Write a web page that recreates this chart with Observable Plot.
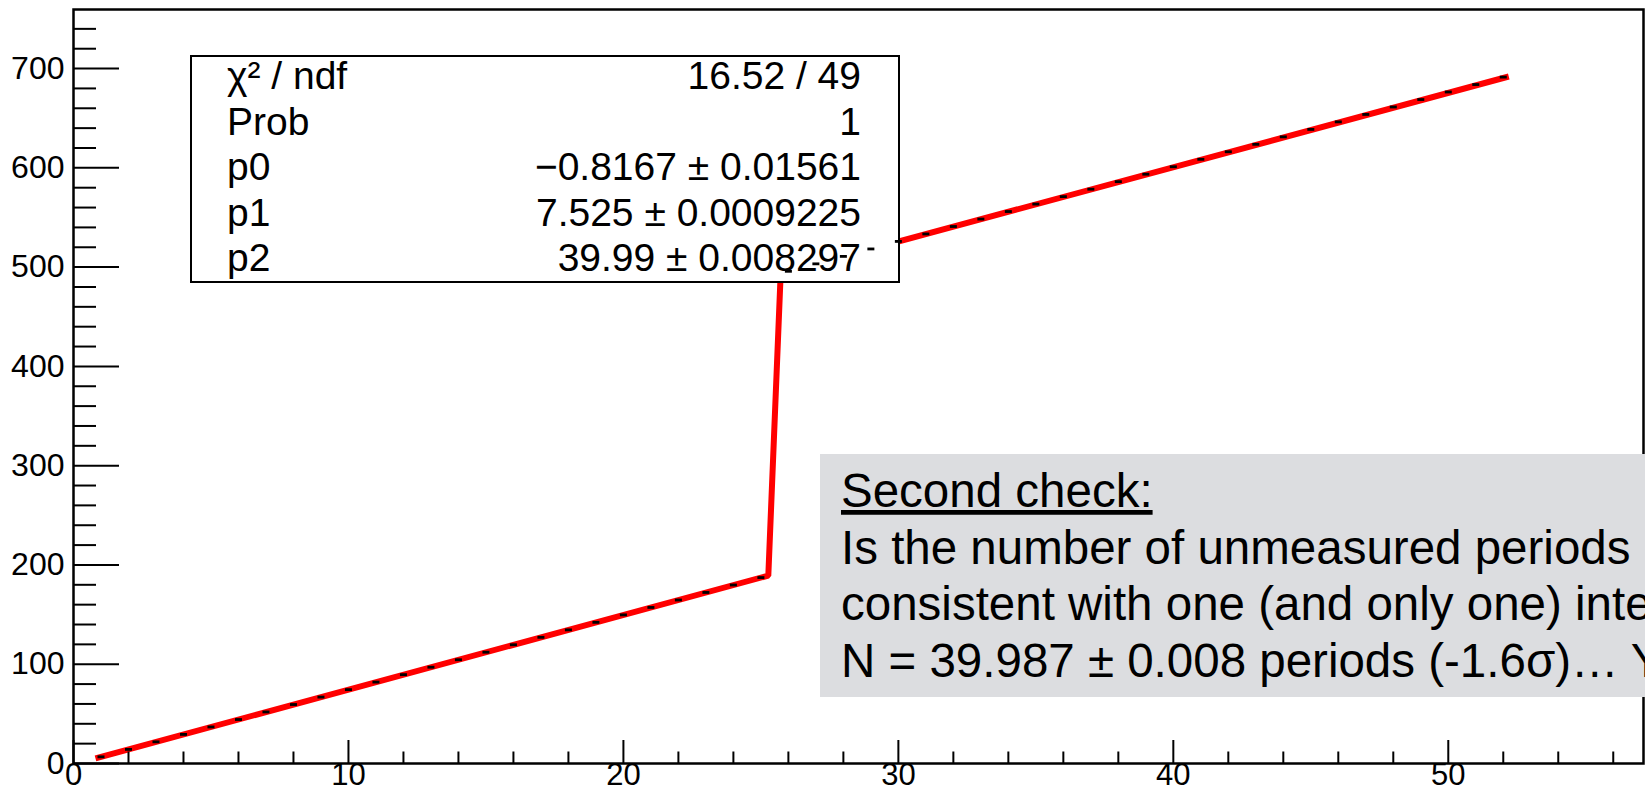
<!DOCTYPE html>
<html>
<head>
<meta charset="utf-8">
<script src="https://cdn.jsdelivr.net/npm/d3@7"></script>
<script src="https://cdn.jsdelivr.net/npm/@observablehq/plot@0.6"></script>
<style>
html, body { margin: 0; padding: 0; background: #fff; overflow: hidden; }
</style>
</head>
<body>
<div id="chart"></div>
<script>
// ---- data ----
const periodIndex = [1,2,3,4,5,6,7,8,9,10,11,12,13,14,15,16,17,18,19,20,21,22,23,24,25,
  26,27,28,29,30,31,32,33,34,35,36,37,38,39,40,41,42,43,44,45,46,47,48,49,50,51,52];
const measuredValue = [6.7,14.2,21.8,29.3,36.8,44.3,51.9,59.4,66.9,74.4,82.0,89.5,97.0,104.5,112.1,
  119.6,127.1,134.6,142.2,149.7,157.2,164.7,172.3,179.8,187.3,
  495.8,503.3,510.8,518.3,525.9,533.4,540.9,548.4,556.0,563.5,571.0,578.5,586.1,593.6,601.1,
  608.6,616.2,623.7,631.2,638.7,646.3,653.8,661.3,668.8,676.4,683.9,691.4];
// fitted curve (sampled function, as drawn)
const fitX = [0.8, 25.27, 25.72, 52.2];
const fitY = [5.2, 189.3, 493.7, 692.0];
// axis ticks
const xMajorTicks = [0, 10, 20, 30, 40, 50];
const xMinorTicks = [2,4,6,8,12,14,16,18,22,24,26,28,32,34,36,38,42,44,46,48,52,54,56];
const yMajorTicks = [0, 100, 200, 300, 400, 500, 600, 700];
const yMinorTicks = [20,40,60,80,120,140,160,180,220,240,260,280,320,340,360,380,420,440,460,480,
  520,540,560,580,620,640,660,680,720,740];
// fit statistics box
const statLabels = ["χ² / ndf", "Prob", "p0", "p1", "p2"];
const statValues = ["16.52 / 49", "1", "−0.8167 ± 0.01561", "7.525 ± 0.0009225", "39.99 ± 0.008297"];
// annotation
const noteLines = [
  "Second check:",
  "Is the number of unmeasured periods",
  "consistent with one (and only one) integer?",
  "N = 39.987 ± 0.008 periods (-1.6σ)… Yes!"
];

// ---- layout ----
const W = 1645, H = 796;
const mL = 73, mR = 2, mT = 9, mB = 33;
const plotW = W - mL - mR, plotH = H - mT - mB;
const FONT = "'Liberation Sans', Arial, Helvetica, sans-serif";

const points = periodIndex.map((x, i) => ({x, y: measuredValue[i]}));
const fit = fitX.map((x, i) => ({x, y: fitY[i]}));

const dash = {draw(ctx) { ctx.rect(-3.5, -1.4, 7, 2.8); }};

function statsBox() {
  const g = d3.create("svg:g").attr("font-size", 39).attr("font-family", FONT)
    .attr("fill", "black").attr("text-anchor", "start");
  const bx = 191, by = 56, bw = 708, bh = 226;
  g.append("rect").attr("x", bx).attr("y", by).attr("width", bw).attr("height", bh)
    .attr("fill", "white").attr("stroke", "black").attr("stroke-width", 2);
  const base = i => by + 33 + i * 45.5;
  g.selectAll("text.lab").data(statLabels).join("text").attr("class", "lab")
    .attr("x", bx + 36).attr("y", (d, i) => base(i)).attr("text-anchor", "start").text(d => d);
  g.selectAll("text.val").data(statValues).join("text").attr("class", "val")
    .attr("x", bx + bw - 38).attr("y", (d, i) => base(i)).attr("text-anchor", "end").text(d => d);
  return g.node();
}

function noteBox() {
  const g = d3.create("svg:g").attr("font-size", 47.5).attr("font-family", FONT)
    .attr("fill", "black").attr("text-anchor", "start");
  const bx = 820, by = 454, bh = 243;
  g.append("rect").attr("x", bx).attr("y", by).attr("width", W - bx + 5).attr("height", bh)
    .attr("fill", "#dcdde0");
  g.selectAll("text").data(noteLines).join("text")
    .attr("x", bx + 21).attr("y", (d, i) => 507 + i * 56.6)
    .attr("text-anchor", "start")
    .attr("text-decoration", (d, i) => i === 0 ? "underline" : null)
    .text(d => d);
  return g.node();
}

const chart = Plot.plot({
  width: W, height: H,
  marginLeft: mL, marginRight: mR, marginTop: mT, marginBottom: mB,
  style: {fontFamily: FONT, fontSize: "30px", background: "white", color: "black", overflow: "hidden"},
  x: {domain: [0, 57.1], axis: null},
  y: {domain: [0, 759.5], axis: null},
  marks: [
    Plot.line(fit, {x: "x", y: "y", stroke: "#ff0000", strokeWidth: 6, strokeLinejoin: "miter", strokeLinecap: "butt"}),
    statsBox,
    Plot.dot(points, {x: "x", y: "y", symbol: dash, fill: "black", stroke: "none", r: 3}),
    Plot.tickX(xMinorTicks, {x: d => d, insetTop: plotH - 11.5, stroke: "black", strokeWidth: 2}),
    Plot.tickX(xMajorTicks, {x: d => d, insetTop: plotH - 23, stroke: "black", strokeWidth: 2}),
    Plot.tickY(yMinorTicks, {y: d => d, insetRight: plotW - 23, stroke: "black", strokeWidth: 2}),
    Plot.tickY(yMajorTicks, {y: d => d, insetRight: plotW - 46, stroke: "black", strokeWidth: 2}),
    Plot.text(xMajorTicks, {x: d => d, text: d => String(d), frameAnchor: "bottom", dy: 21, fontSize: 31, fill: "black"}),
    Plot.text(yMajorTicks, {y: d => d, text: d => String(d), frameAnchor: "left", textAnchor: "end", dx: -9, fontSize: 32, fill: "black"}),
    Plot.frame({stroke: "black", strokeWidth: 2.5}),
    noteBox
  ]
});

document.getElementById("chart").append(chart);
</script>
</body>
</html>
